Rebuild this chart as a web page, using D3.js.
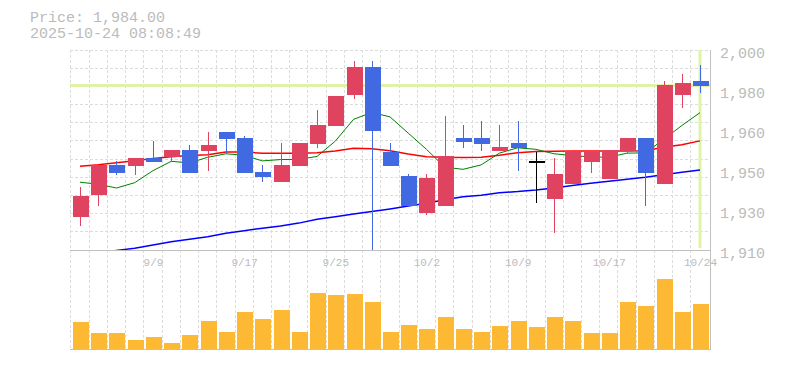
<!DOCTYPE html>
<html>
<head>
<meta charset="utf-8">
<script src="https://d3js.org/d3.v7.min.js"></script>
<style>
  body { margin: 0; background: #ffffff; }
  svg text { font-family: "Liberation Mono", "DejaVu Sans Mono", monospace; fill: #bbbbbb; }
</style>
</head>
<body>
<div id="chart"></div>
<script>
// daily candles, 9/3 - 10/24
let dates = ["9/3","9/4","9/5","9/8","9/9","9/10","9/11","9/12","9/16","9/17",
  "9/18","9/19","9/22","9/24","9/25","9/26","9/29","9/30","10/1","10/2",
  "10/3","10/6","10/7","10/8","10/9","10/10","10/14","10/15","10/16","10/17",
  "10/20","10/21","10/22","10/23","10/24"]

let open  = [1925.0,1934.8,1948.3,1947.9,1951.5,1951.7,1955.0,1954.6,1963.1,1960.4,
  1945.1,1940.8,1947.9,1957.7,1965.9,1979.9,1992.4,1954.1,1943.3,1926.7,
  1930.0,1960.4,1960.4,1954.7,1958.2,1950.0,1933.0,1939.7,1949.6,1942.0,
  1954.7,1960.4,1939.7,1979.9,1986.0]
let high  = [1938.5,1948.3,1950.0,1951.5,1959.2,1955.0,1957.3,1963.2,1963.1,1961.3,
  1948.3,1958.0,1958.0,1973.0,1979.3,1995.0,1995.0,1958.2,1944.2,1944.2,
  1970.3,1966.3,1968.0,1966.3,1968.0,1954.3,1951.3,1954.4,1954.1,1955.0,
  1960.4,1960.4,1986.2,1989.2,1993.3]
let low   = [1920.9,1930.0,1943.9,1943.8,1949.7,1950.2,1944.8,1945.7,1953.0,1944.8,
  1940.8,1940.8,1947.9,1956.0,1965.9,1978.0,1909.0,1947.8,1930.0,1925.9,
  1930.0,1956.0,1954.7,1954.7,1945.7,1931.0,1917.8,1939.7,1944.8,1942.0,
  1953.5,1930.0,1939.7,1974.0,1980.8]
let close = [1934.3,1948.3,1944.8,1951.5,1949.7,1955.0,1944.8,1957.3,1960.0,1944.8,
  1943.0,1948.3,1958.0,1966.3,1979.3,1992.4,1963.7,1947.8,1930.0,1942.6,
  1952.3,1958.8,1957.9,1956.5,1956.0,1950.0,1944.2,1954.4,1954.1,1955.0,
  1960.4,1944.8,1984.4,1985.3,1984.0]

let volume = [27,16,16,9,12,6,14,28,17,37,
  30,39,17,56,54,55,47,17,24,20,
  32,20,17,23,28,22,32,28,16,16,
  47,43,71,37,45]

// moving averages (5 / 25 / 75 day)
let ma5  = [1940.5,1939.6,1937.9,1940.3,1945.7,1949.9,1949.2,1951.7,1953.3,1952.6,
  1950.1,1950.7,1950.8,1952.1,1959.0,1968.8,1971.9,1969.9,1962.6,1955.3,
  1947.3,1946.3,1948.3,1953.6,1956.0,1955.3,1953.3,1952.5,1951.9,1951.7,
  1953.6,1953.7,1959.7,1966.0,1971.8]
let ma25 = [1947.7,1948.4,1949.3,1950.2,1951.2,1952.0,1952.5,1952.9,1954.1,1954.1,
  1953.5,1953.5,1953.5,1953.8,1954.6,1955.8,1955.6,1954.7,1953.2,1952.0,
  1951.7,1951.6,1951.7,1952.6,1953.8,1954.3,1954.4,1954.5,1954.5,1954.5,
  1954.5,1954.7,1956.2,1957.4,1959.1]
let ma75 = [1907.5,1908.7,1909.8,1910.8,1912.2,1913.7,1914.8,1916.0,1917.5,1918.7,
  1919.8,1920.8,1922.1,1923.8,1925.0,1926.2,1927.3,1928.5,1929.8,1931.0,
  1932.6,1934.0,1934.6,1935.8,1936.3,1937.0,1937.9,1939.0,1940.0,1940.9,
  1941.8,1942.7,1943.9,1945.0,1946.0]

let labelDates = ["9/9","9/17","9/25","10/2","10/9","10/17","10/24"]
let yTickValues = [2000, 1982, 1964, 1946, 1928, 1910]
let yTickLabels = ["2,000","1,980","1,960","1,950","1,930","1,910"]

let lastPrice = "1,984.00"
let stamp = "2025-10-24 08:08:49"

let width = 785, height = 370
let plot = { left: 70, right: 710, top: 50, mid: 250, bottom: 349 }

let svg = d3.select("#chart").append("svg")
  .attr("width", width)
  .attr("height", height)

let x = d3.scalePoint().domain(dates).range([80, 700])
let step = x.step()
let y = d3.scaleLinear().domain([1910, 2000]).range([plot.mid, plot.top])
let yVol = d3.scaleLinear().domain([0, 100]).range([plot.bottom - 0.5, plot.mid])

svg.append("defs").append("clipPath").attr("id", "clipPrice")
  .append("rect")
  .attr("x", plot.left).attr("y", plot.top)
  .attr("width", plot.right - plot.left).attr("height", plot.mid - plot.top)

// title
svg.append("text").attr("x", 30).attr("y", 22).style("font-size", "15px").text("Price: " + lastPrice)
svg.append("text").attr("x", 30).attr("y", 38).style("font-size", "15px").text(stamp)

// grid
let grid = svg.append("g")
  .attr("stroke", "#dcdcdc")
  .attr("stroke-dasharray", "3,2")
  .attr("shape-rendering", "crispEdges")

grid.selectAll(".hgrid")
  .data(d3.range(11).map(k => 2000 - k * 90 / 11))
  .enter().append("line")
  .attr("x1", plot.left).attr("x2", plot.right)
  .attr("y1", d => y(d)).attr("y2", d => y(d))

grid.selectAll(".vgrid")
  .data(dates)
  .enter().append("line")
  .attr("x1", d => x(d) - step / 2).attr("x2", d => x(d) - step / 2)
  .attr("y1", plot.top).attr("y2", plot.bottom)

// current price lines
svg.append("line")
  .attr("x1", plot.left).attr("x2", plot.right)
  .attr("y1", y(close[close.length - 1])).attr("y2", y(close[close.length - 1]))
  .attr("stroke", "#def3a6").attr("stroke-width", 3)
svg.append("line")
  .attr("x1", x(dates[dates.length - 1])).attr("x2", x(dates[dates.length - 1]))
  .attr("y1", plot.top).attr("y2", plot.mid - 2)
  .attr("stroke", "#def3a6").attr("stroke-width", 3)

// moving averages
let price = svg.append("g").attr("clip-path", "url(#clipPrice)")

function maLine(values, color, w) {
  let line = d3.line()
    .x((d, i) => x(dates[i]))
    .y(d => y(d))
  price.append("path")
    .datum(values)
    .attr("d", line)
    .attr("fill", "none")
    .attr("stroke", color)
    .attr("stroke-width", w)
}
maLine(ma75, "#0000ff", 1.5)
maLine(ma25, "#ff0000", 1.5)
maLine(ma5, "#008000", 1)

// candles
let candleData = dates.map((d, i) => ({ date: d, o: open[i], h: high[i], l: low[i], c: close[i] }))
function candleColor(d) {
  if (d.c > d.o) return "#e0435f"
  if (d.c < d.o) return "#4169e1"
  return "#000000"
}

let candles = price.selectAll(".candle")
  .data(candleData)
  .enter().append("g")
  .attr("shape-rendering", "crispEdges")

candles.append("line")
  .attr("x1", d => Math.round(x(d.date)) + 0.5).attr("x2", d => Math.round(x(d.date)) + 0.5)
  .attr("y1", d => y(d.h)).attr("y2", d => y(d.l))
  .attr("stroke", candleColor)
  .attr("stroke-width", 1.5)

candles.append("rect")
  .attr("x", d => Math.round(x(d.date)) - 8 + 0.5)
  .attr("width", 16)
  .attr("y", d => y(Math.max(d.o, d.c)))
  .attr("height", d => Math.max(1.5, Math.abs(y(d.o) - y(d.c))))
  .attr("fill", candleColor)

// volume
svg.append("g").selectAll("rect")
  .data(volume)
  .enter().append("rect")
  .attr("x", (d, i) => Math.round(x(dates[i])) - 8 + 0.5)
  .attr("width", 16)
  .attr("y", d => yVol(d))
  .attr("height", d => yVol(0) - yVol(d))
  .attr("fill", "#fdb933")
  .attr("shape-rendering", "crispEdges")

// frame
let frame = svg.append("g").attr("stroke", "#c0c0c0").attr("shape-rendering", "crispEdges")
frame.append("line").attr("x1", plot.left).attr("x2", plot.right).attr("y1", plot.mid).attr("y2", plot.mid)
frame.append("line").attr("x1", plot.left).attr("x2", plot.right).attr("y1", plot.bottom + 0.5).attr("y2", plot.bottom + 0.5)
frame.append("line").attr("x1", plot.right).attr("x2", plot.right).attr("y1", plot.top).attr("y2", plot.bottom + 0.5)

// price labels
let yAxisG = svg.append("g")
  .attr("transform", "translate(" + plot.right + ",0)")
  .call(d3.axisRight(y).tickValues(yTickValues).tickSize(0).tickPadding(10)
    .tickFormat((d, i) => yTickLabels[i]))
yAxisG.select(".domain").remove()
yAxisG.selectAll("text")
  .attr("fill", "#bbbbbb")
  .attr("dy", "0.47em")
  .style("font-size", "15px")
  .style("font-family", null)

// date labels
let xAxisG = svg.append("g")
  .attr("transform", "translate(0," + plot.mid + ")")
  .call(d3.axisBottom(x).tickValues(labelDates).tickSize(0).tickPadding(8))
xAxisG.select(".domain").remove()
xAxisG.selectAll("text")
  .attr("fill", "#bbbbbb")
  .style("font-size", "11px")
  .style("font-family", null)
</script>
</body>
</html>
